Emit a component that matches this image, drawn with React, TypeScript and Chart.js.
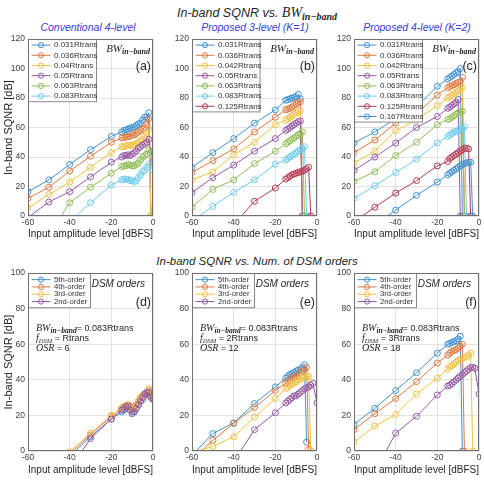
import React, { useEffect, useRef } from "react";
import { Chart, registerables } from "chart.js";

Chart.register(...registerables);

const _ = null;
const SANS = '"Liberation Sans", Arial, Helvetica, sans-serif';
const SERIF = '"Liberation Serif", "Times New Roman", serif';

// Input amplitude levels [dBFS], shared by every panel
const X_DBFS = [-60, -50, -40, -30, -20, -15, -14, -13, -12, -11, -10, -9, -8, -7, -6, -5, -4, -3, -2, -1, 0];

// (a) Conventional 4-level
const A_LABELS = ["0.031Rtrans", "0.036Rtrans", "0.04Rtrans", "0.05Rtrans", "0.063Rtrans", "0.083Rtrans"];
const A_031 = [16.5, 24.5, 35, 45, 54, 57, 58, 58.5, 59, 59.5, 60, 60.5, 61.5, 62.5, 63, 65, 67, 67, 70, 0, _];
const A_036 = [12, 19.5, 30.5, 40.5, 50, 53, 53, 53.5, 54, 54, 55, 55, 56, 57, 58, 59, 60, 62, 66, 0, _];
const A_040 = [5.5, 14.5, 23, 33, 43, 47, 47, 47.5, 48, 48, 48, 48.5, 49, 50, 51, 52, 54, 56, 59, 0, _];
const A_050 = [-1, 9.5, 16.5, 26.5, 36.5, 40, 41, 41, 41.5, 41, 42, 43, 44, 46, 47, 48, 49, 50, 52, _, 37];
const A_063 = [_, -13.5, 9, 19.5, 29, 33.5, 34, 34, 35, 34.5, 34, 34, 35, 36, 38, 40, 41, 42, 45, _, 34];
const A_083 = [_, -16, -4, 9, 21, 24.5, 25, 25, 25, 24, 24, 23, 24, 26, 28, 30, 31, 33, 35, _, 31];

// (b) Proposed 3-level (K=1)
const B_LABELS = ["0.031Rtrans", "0.036Rtrans", "0.042Rtrans", "0.05Rtrans", "0.063Rtrans", "0.083Rtrans", "0.125Rtrans"];
const B_031 = [33, 43, 52.5, 63, 72, 78.5, 79, 79.5, 80, 80.5, 81, 82.5, 79.5, 0, _, _, _, _, _, _, _];
const B_036 = [29.5, 37.5, 45.5, 57, 67, 72, 72.5, 73, 74, 75, 76, 77, 77.5, 0, _, _, _, _, _, _, _];
const B_042 = [24.5, 30, 41.5, 50, 62, 65, 66, 67, 68, 69, 70, 71, 71.5, 0, _, _, _, _, _, _, _];
const B_050 = [16, 26, 34.5, 44, 52.5, 58, 59, 60, 61, 62, 63, 64, 64.5, 0, _, _, _, _, _, _, _];
const B_063 = [6, 18, 24.5, 35.5, 44, 49, 50, 51, 52, 53, 54, 55, 56, 57, 0, _, _, _, _, _, _];
const B_083 = [-3.5, 6.5, 16, 24.5, 35, 38, 39, 40, 41, 42, 43, 44, 45, 46, 47, 0, _, _, _, _, _];
const B_125 = [_, _, -6, 10, 19, 25, 26, 27, 28, 28.5, 29, 29.5, 30, 30.5, 31, 32, 33, 0, _, _, _];

// (c) Proposed 4-level (K=2)
const C_LABELS = ["0.031Rtrans", "0.036Rtrans", "0.042Rtrans", "0.05Rtrans", "0.063Rtrans", "0.083Rtrans", "0.125Rtrans", "0.167Rtrans"];
const C_031 = [49.5, 57, 66, 74, 88, 93, 94, 95, 96, 97, 98, 100, 0, _, _, _, _, _, _, _, _];
const C_036 = [43, 51.5, 63, 69.5, 82, 87, 88, 88.5, 89, 90, 90.5, 91, 94, 0, _, _, _, _, _, _, _];
const C_042 = [36, 44, 58, 65, 75, 80, 81, 82, 83, 84, 85, 86, 87, 0, _, _, _, _, _, _, _];
const C_050 = [31, 40, 49.5, 60, 67.5, 73, 74, 75, 76, 77, 79, 0, _, _, _, _, _, _, _, _, _];
const C_063 = [23.5, 30, 41, 50, 62, 65.5, 66, 67, 68, 69, 70, 70.5, 71, 0, _, _, _, _, _, _, _];
const C_083 = [12, 20.5, 29.5, 38.5, 49.5, 54, 55, 56, 57, 57.5, 58, 59, 59.5, 60.5, 0, _, _, _, _, _, _];
const C_125 = [-4, 6, 15.5, 24, 34, 37, 39, 40, 41, 42, 43, 44, 45, 46, 46, 45.5, 0, _, _, _, _];
const C_167 = [_, -6, 4, 14, 23, 28, 29, 30, 31, 32, 33, 34, 35, 35.5, 36, 36.5, 36.5, 0, _, _, _];

// (d)-(f) DSM orders
const ORDER_LABELS = ["5th-order", "4th-order", "3rd-order", "2nd-order"];
const D_5 = [_, _, -3, 8, 18, 22, 23, 24, 25, 24, 22, 22, 24, 26, 28, 29, 31, 32, 33, 31, 30];
const D_4 = [_, _, -1.5, 9, 19.5, 24, 25, 25.5, 26, 25, 24, 25, 26, 28, 30, 31, 32, 33, 34, 31, 30];
const D_3 = [_, -8, -0.5, 10, 20, 24, 25, 25.5, 25, 24, 23, 24, 26, 28, 30, 31, 32, 33, 35, 32, 29];
const D_2 = [_, _, -10, 7, 18, 23, 24, 25, 25, 23, 21, 22, 24, 26, 28, 30, 32, 33, 33, 30, 29];

const E_5 = [-2.5, 9.8, 15.8, 26.7, 36, 41, 42, 43, 43.5, 44, 45, 45.5, 46, 47, 48.5, 5, _, _, _, _, _];
const E_4 = [-5, 6, 15.5, 24.5, 34, 38, 39, 40, 41, 41.5, 42, 43, 44, 45, 46, 47, 1, _, _, _, _];
const E_3 = [-0.8, 2.5, 8, 19, 29.5, 35, 36, 37, 37.5, 38, 39, 40, 40, 41, 41.5, 42, 42, 0, _, _, _];
const E_2 = [_, _, -6, 12, 21.5, 27, 28, 29, 30, 31, 31, 32, 33, 34, 35, 35.5, 36, 37, 38, _, 27];

const F_5 = [15, 24, 34, 44, 55, 60, 60.5, 61, 61.5, 62, 63, 64.5, 0, _, _, _, _, _, _, _, _];
const F_4 = [12, 21, 29.5, 39, 49.5, 54, 55, 56, 56.5, 57, 58, 59, 60, 0, _, _, _, _, _, _, _];
const F_3 = [5, 14, 20.5, 32, 41, 46, 47.5, 48, 49, 50, 51, 51.5, 52, 52.5, 53, 54, 55, 0, _, _, _];
const F_2 = [_, -11.7, 10, 19.5, 31.5, 36.5, 37, 38, 39, 40, 41, 42, 43, 44, 45, 46, 47, 47, 46.5, _, 32];

const COLORS = ["#4191d0", "#e07840", "#f0c040", "#9658a6", "#8fbd52", "#6ccbf0", "#b43a50", "#4191d0"];

type Part = { t: string; f: string; dy?: number };

type Panel = {
  id: string;
  rect: [number, number, number, number];
  yMax: number;
  labels: string[];
  series: (number | null)[][];
  tag: string;
  kind: "bw" | "dsm";
  yTitle: boolean;
  legendW: number;
  legendRow: number;
  legendPad: number;
  legendFont: number;
  xTitlePad: number;
  fdsm?: string;
  osr?: string;
};

const PANELS: Panel[] = [
  { id: "a", rect: [28, 39, 153, 216], yMax: 120, labels: A_LABELS, series: [A_031, A_036, A_040, A_050, A_063, A_083], tag: "(a)", kind: "bw", yTitle: true, legendW: 68, legendRow: 10.2, legendPad: 0.5, legendFont: 8, xTitlePad: 2 },
  { id: "b", rect: [192, 39, 317, 216], yMax: 120, labels: B_LABELS, series: [B_031, B_036, B_042, B_050, B_063, B_083, B_125], tag: "(b)", kind: "bw", yTitle: false, legendW: 67.5, legendRow: 10.2, legendPad: 0.5, legendFont: 8, xTitlePad: 2 },
  { id: "c", rect: [354, 39, 479, 216], yMax: 120, labels: C_LABELS, series: [C_031, C_036, C_042, C_050, C_063, C_083, C_125, C_167], tag: "(c)", kind: "bw", yTitle: false, legendW: 68, legendRow: 10.2, legendPad: 0.5, legendFont: 8, xTitlePad: 2 },
  { id: "d", rect: [28, 273, 153, 451], yMax: 100, labels: ORDER_LABELS, series: [D_5, D_4, D_3, D_2], tag: "(d)", kind: "dsm", yTitle: true, legendW: 62, legendRow: 7.3, legendPad: 2.5, legendFont: 7.7, xTitlePad: 1, fdsm: "Rtrans", osr: "6" },
  { id: "e", rect: [192, 273, 317, 451], yMax: 100, labels: ORDER_LABELS, series: [E_5, E_4, E_3, E_2], tag: "(e)", kind: "dsm", yTitle: false, legendW: 62, legendRow: 7.3, legendPad: 2.5, legendFont: 7.7, xTitlePad: 1, fdsm: "2Rtrans", osr: "12" },
  { id: "f", rect: [354, 273, 479, 451], yMax: 100, labels: ORDER_LABELS, series: [F_5, F_4, F_3, F_2], tag: "(f)", kind: "dsm", yTitle: false, legendW: 62, legendRow: 7.3, legendPad: 2.5, legendFont: 7.7, xTitlePad: 1, fdsm: "3Rtrans", osr: "18" },
];

function drawRich(ctx: CanvasRenderingContext2D, x: number, y: number, parts: Part[], align: "left" | "right") {
  let w = 0;
  for (const p of parts) {
    ctx.font = p.f;
    w += ctx.measureText(p.t).width;
  }
  let cx = align === "right" ? x - w : x;
  ctx.textBaseline = "middle";
  ctx.textAlign = "left";
  for (const p of parts) {
    ctx.font = p.f;
    ctx.fillText(p.t, cx, y + (p.dy || 0));
    cx += ctx.measureText(p.t).width;
  }
}

function makePlugins(p: Panel) {
  const frame = {
    id: "frame",
    afterDraw(chart: any) {
      const { ctx, chartArea } = chart;
      const l = Math.round(chartArea.left) + 0.5;
      const t = Math.round(chartArea.top) + 0.5;
      const r = Math.round(chartArea.right) - 0.5;
      const b = Math.round(chartArea.bottom) - 0.5;
      ctx.save();
      ctx.strokeStyle = "#707070";
      ctx.lineWidth = 1;
      ctx.strokeRect(l, t, r - l, b - t);
      ctx.restore();
    },
  };
  const legend = {
    id: "boxLegend",
    afterDatasetsDraw(chart: any) {
      const { ctx, chartArea } = chart;
      const x0 = Math.round(chartArea.left) + 0.5;
      const y0 = Math.round(chartArea.top) + 0.5;
      const n = p.labels.length;
      const h = p.legendPad * 2 + n * p.legendRow;
      ctx.save();
      ctx.fillStyle = "#ffffff";
      ctx.fillRect(x0, y0, p.legendW, h);
      ctx.strokeStyle = "#8a8a8a";
      ctx.lineWidth = 1;
      ctx.strokeRect(x0, y0, p.legendW, h);
      ctx.font = `${p.legendFont}px ${SANS}`;
      ctx.textBaseline = "middle";
      ctx.textAlign = "left";
      for (let i = 0; i < n; i++) {
        const cy = y0 + p.legendPad + p.legendRow * (i + 0.5);
        const color = chart.data.datasets[i].borderColor;
        ctx.strokeStyle = color;
        ctx.beginPath();
        ctx.moveTo(x0 + 3, cy);
        ctx.lineTo(x0 + 22, cy);
        ctx.stroke();
        ctx.beginPath();
        ctx.arc(x0 + 12.5, cy, 2.6, 0, Math.PI * 2);
        ctx.stroke();
        ctx.fillStyle = "#333333";
        ctx.fillText(chart.data.datasets[i].label, x0 + 25.5, cy);
      }
      ctx.restore();
    },
  };
  const notes = {
    id: "notes",
    afterDraw(chart: any) {
      const { ctx, chartArea } = chart;
      const { left, top, right } = chartArea;
      ctx.save();
      ctx.fillStyle = "#262626";
      if (p.kind === "bw") {
        drawRich(ctx, right - 3, top + 10, [
          { t: "BW", f: `italic 11px ${SERIF}` },
          { t: "in\u2212band", f: `italic bold 8px ${SERIF}`, dy: 2.5 },
        ], "right");
        drawRich(ctx, right - 2, top + 27, [{ t: p.tag, f: `12.5px ${SANS}` }], "right");
      } else {
        drawRich(ctx, right - 8, top + 11, [{ t: "DSM orders", f: `italic 10px ${SANS}` }], "right");
        drawRich(ctx, right - 2, top + 29, [{ t: p.tag, f: `12.5px ${SANS}` }], "right");
        drawRich(ctx, left + 8, top + 55, [
          { t: "BW", f: `italic 10px ${SERIF}` },
          { t: "in\u2212band", f: `italic bold 7.5px ${SERIF}`, dy: 2.5 },
          { t: "= 0.083Rtrans", f: `9px ${SANS}` },
        ], "left");
        drawRich(ctx, left + 8, top + 65.5, [
          { t: "f", f: `italic 10px ${SERIF}` },
          { t: "DSM", f: `italic 6.5px ${SERIF}`, dy: 2.5 },
          { t: " = " + (p.fdsm || ""), f: `9px ${SANS}` },
        ], "left");
        drawRich(ctx, left + 8, top + 75, [
          { t: "OSR", f: `italic 10px ${SERIF}` },
          { t: " = " + (p.osr || ""), f: `9px ${SANS}` },
        ], "left");
      }
      ctx.restore();
    },
  };
  return [legend, notes, frame];
}

const PAD_T = 8;
const PAD_R = 5;
const PAD_B = 26;

function PanelChart({ p }: { p: Panel }) {
  const ref = useRef<HTMLCanvasElement | null>(null);
  const [l, t, r, b] = p.rect;
  const padL = p.yTitle ? l : 22;
  const cw = r - l + padL + PAD_R;
  const ch = b - t + PAD_T + PAD_B;

  useEffect(() => {
    if (!ref.current) return;
    const n = p.series.length;
    const datasets = p.series.map((ys, i) => ({
      label: p.labels[i],
      data: X_DBFS.map((x, k) => ({ x, y: ys[k] })).filter((pt) => pt.y !== null),
      borderColor: COLORS[i],
      backgroundColor: COLORS[i],
      pointBorderColor: COLORS[i],
      pointBackgroundColor: "rgba(0,0,0,0)",
      pointRadius: 3,
      pointBorderWidth: 1,
      borderWidth: 1,
      tension: 0,
      fill: false,
      order: n - i,
    }));
    const tickFont = { family: SANS, size: 8.5 };
    const chart = new Chart(ref.current, {
      type: "line",
      data: { datasets },
      options: {
        responsive: false,
        animation: false,
        events: [],
        layout: { padding: { top: PAD_T, right: PAD_R, left: 0, bottom: 0 } },
        plugins: { legend: { display: false }, tooltip: { enabled: false }, title: { display: false } },
        scales: {
          x: {
            type: "linear",
            min: -60,
            max: 0,
            ticks: { stepSize: 20, font: tickFont, color: "#404040", padding: 2, maxRotation: 0 },
            grid: { color: "#e2e2e2", drawTicks: false, lineWidth: 1 },
            border: { display: false },
            title: {
              display: true,
              text: "Input amplitude level [dBFS]",
              font: { family: SANS, size: 10 },
              color: "#262626",
              padding: { top: 0, bottom: p.xTitlePad },
            },
            afterFit: (s: any) => {
              s.height = PAD_B;
            },
          },
          y: {
            type: "linear",
            min: 0,
            max: p.yMax,
            ticks: { stepSize: 20, font: tickFont, color: "#404040", padding: 3 },
            grid: { color: "#e2e2e2", drawTicks: false, lineWidth: 1 },
            border: { display: false },
            title: {
              display: p.yTitle,
              text: "In-band SQNR [dB]",
              font: { family: SANS, size: 11 },
              color: "#262626",
              padding: { top: 2, bottom: 0 },
            },
            afterFit: (s: any) => {
              s.width = padL;
            },
          },
        },
      } as any,
      plugins: makePlugins(p) as any,
    });
    return () => chart.destroy();
  }, [p]);

  return (
    <canvas
      ref={ref}
      width={cw}
      height={ch}
      style={{ position: "absolute", left: l - padL, top: t - PAD_T, width: cw, height: ch }}
    />
  );
}

const SUBTITLES: { text: string; x: number }[] = [
  { text: "Conventional 4-level", x: 88 },
  { text: "Proposed 3-level (K=1)", x: 255 },
  { text: "Proposed 4-level (K=2)", x: 417 },
];

export default function App() {
  useEffect(() => {
    document.body.style.margin = "0";
  }, []);
  const center: React.CSSProperties = {
    position: "absolute",
    transform: "translate(-50%, -50%)",
    whiteSpace: "nowrap",
    lineHeight: "16px",
  };
  return (
    <div style={{ position: "absolute", left: 0, top: 0, width: 484, height: 481, background: "#ffffff", overflow: "hidden" }}>
      <div style={{ ...center, left: 257, top: 13, color: "#262626" }}>
        <span style={{ fontFamily: SANS, fontStyle: "italic", fontSize: 12.5 }}>In-band SQNR vs. </span>
        <span style={{ fontFamily: SERIF, fontStyle: "italic", fontSize: 14 }}>BW</span>
        <span style={{ fontFamily: SERIF, fontStyle: "italic", fontWeight: "bold", fontSize: 10, position: "relative", top: 3 }}>in−band</span>
      </div>
      {SUBTITLES.map((s) => (
        <div key={s.text} style={{ ...center, left: s.x, top: 27, color: "#3b3bd9", fontFamily: SANS, fontStyle: "italic", fontSize: 10.5 }}>
          {s.text}
        </div>
      ))}
      <div style={{ ...center, left: 257, top: 261, color: "#262626", fontFamily: SANS, fontStyle: "italic", fontSize: 11.5 }}>
        In-band SQNR vs. Num. of DSM orders
      </div>
      {PANELS.map((p) => (
        <PanelChart key={p.id} p={p} />
      ))}
    </div>
  );
}
